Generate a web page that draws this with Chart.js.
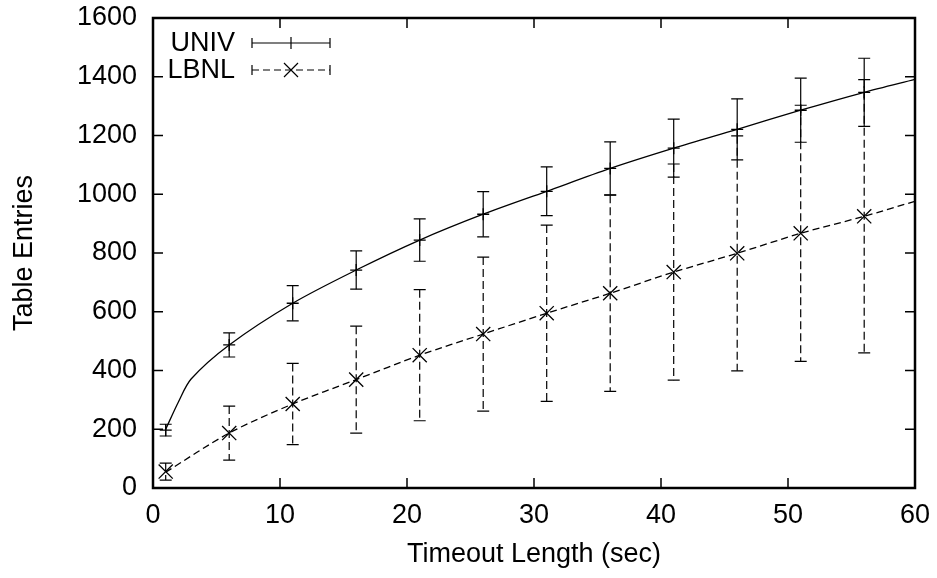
<!DOCTYPE html>
<html>
<head>
<meta charset="utf-8">
<script src="https://cdn.jsdelivr.net/npm/chart.js@4/dist/chart.umd.min.js"></script>
<style>
  html, body { margin: 0; padding: 0; background: #fff; }
  #wrap { width: 937px; height: 578px; }
</style>
</head>
<body>
<div id="wrap"><canvas id="chart" width="937" height="578"></canvas></div>
<script>
// measured points (timeout in sec)
const timeouts = [1, 6, 11, 16, 21, 26, 31, 36, 41, 46, 51, 56];
const univMean = [197, 487, 629, 742, 844, 932, 1010, 1088, 1157, 1221, 1286, 1347];
const univErr = [20, 41, 60, 65, 72, 77, 83, 90, 99, 104, 109, 116];
const lbnlMean = [56, 187, 286, 369, 452, 524, 595, 663, 735, 799, 867, 925];
const lbnlErr = [29, 92, 138, 182, 223, 262, 300, 334, 368, 400, 436, 465];

// fitted curves
const univCurveX = [1, 2, 3, 6, 11, 16, 21, 26, 31, 36, 41, 46, 51, 56, 60];
const univCurveY = [200, 293, 371, 487, 629, 742, 844, 932, 1010, 1088, 1157, 1221, 1286, 1347, 1391];
const lbnlCurveX = [1, 6, 11, 16, 21, 26, 31, 36, 41, 46, 51, 56, 60];
const lbnlCurveY = [54, 187, 286, 369, 452, 524, 595, 663, 735, 799, 867, 925, 976];

const xTicks = [0, 10, 20, 30, 40, 50, 60];
const yTicks = [0, 200, 400, 600, 800, 1000, 1200, 1400, 1600];

const FONT = "'Liberation Sans', Arial, Helvetica, sans-serif";
const FSIZE = 27;
const DASH = [7, 4];

const zip = (xa, ya) => xa.map((x, i) => ({ x, y: ya[i] }));

Chart.defaults.font.family = FONT;
Chart.defaults.color = "#000";

// error bars drawn through the scales
const errorBars = {
  id: "errorBars",
  afterDatasetsDraw(chart) {
    const { ctx, scales: { x, y } } = chart;
    const sets = [
      { mean: univMean, err: univErr, dash: [] },
      { mean: lbnlMean, err: lbnlErr, dash: [8, 4] }
    ];
    ctx.save();
    ctx.strokeStyle = "#000";
    ctx.lineWidth = 1.2;
    sets.forEach(s => {
      timeouts.forEach((t, i) => {
        const px = x.getPixelForValue(t);
        const top = y.getPixelForValue(s.mean[i] + s.err[i]);
        const bot = y.getPixelForValue(s.mean[i] - s.err[i]);
        ctx.setLineDash(s.dash);
        ctx.beginPath();
        ctx.moveTo(px, top);
        ctx.lineTo(px, bot);
        ctx.stroke();
        ctx.setLineDash([]);
        ctx.beginPath();
        ctx.moveTo(px - 6, top); ctx.lineTo(px + 6, top);
        ctx.moveTo(px - 6, bot); ctx.lineTo(px + 6, bot);
        ctx.stroke();
      });
    });
    ctx.restore();
  }
};

// gnuplot style border with inward ticks, plus the key
const frameAndKey = {
  id: "frameAndKey",
  afterDraw(chart) {
    const { ctx, chartArea: a, scales: { x, y } } = chart;
    ctx.save();
    ctx.strokeStyle = "#000";
    ctx.lineWidth = 1.5;
    ctx.beginPath();
    xTicks.forEach(v => {
      const px = x.getPixelForValue(v);
      ctx.moveTo(px, a.bottom); ctx.lineTo(px, a.bottom - 10);
      ctx.moveTo(px, a.top); ctx.lineTo(px, a.top + 10);
    });
    yTicks.forEach(v => {
      const py = y.getPixelForValue(v);
      ctx.moveTo(a.left, py); ctx.lineTo(a.left + 10, py);
      ctx.moveTo(a.right, py); ctx.lineTo(a.right - 10, py);
    });
    ctx.stroke();
    ctx.lineWidth = 2.5;
    ctx.strokeRect(a.left, a.top, a.right - a.left, a.bottom - a.top);

    // key
    const keys = [
      { label: "UNIV", y: a.top + 25, dash: [], marker: "plus" },
      { label: "LBNL", y: a.top + 52, dash: DASH, marker: "x" }
    ];
    ctx.font = FSIZE + "px " + FONT;
    ctx.fillStyle = "#000";
    ctx.textAlign = "right";
    ctx.textBaseline = "middle";
    ctx.lineWidth = 1.2;
    keys.forEach(k => {
      ctx.fillText(k.label, a.left + 82, k.y + 1);
      const x0 = a.left + 99, x1 = a.left + 177, xm = (x0 + x1) / 2;
      ctx.setLineDash(k.dash);
      ctx.beginPath();
      ctx.moveTo(x0, k.y); ctx.lineTo(x1, k.y);
      ctx.stroke();
      ctx.setLineDash([]);
      ctx.beginPath();
      ctx.moveTo(x0, k.y - 5); ctx.lineTo(x0, k.y + 5);
      ctx.moveTo(x1, k.y - 5); ctx.lineTo(x1, k.y + 5);
      if (k.marker === "plus") {
        ctx.moveTo(xm, k.y - 6); ctx.lineTo(xm, k.y + 6);
      } else {
        ctx.moveTo(xm - 7, k.y - 7); ctx.lineTo(xm + 7, k.y + 7);
        ctx.moveTo(xm - 7, k.y + 7); ctx.lineTo(xm + 7, k.y - 7);
      }
      ctx.stroke();
    });
    ctx.restore();
  }
};

new Chart(document.getElementById("chart").getContext("2d"), {
  type: "scatter",
  data: {
    datasets: [
      {
        label: "UNIV fit",
        data: zip(univCurveX, univCurveY),
        showLine: true,
        borderColor: "#000",
        borderWidth: 1.3,
        pointRadius: 0,
        tension: 0.3
      },
      {
        label: "LBNL fit",
        data: zip(lbnlCurveX, lbnlCurveY),
        showLine: true,
        borderColor: "#000",
        borderWidth: 1.3,
        borderDash: DASH,
        pointRadius: 0,
        tension: 0.3
      },
      {
        label: "UNIV",
        data: zip(timeouts, univMean),
        pointStyle: "cross",
        pointRadius: 6,
        borderColor: "#000",
        borderWidth: 1.3,
        backgroundColor: "#000"
      },
      {
        label: "LBNL",
        data: zip(timeouts, lbnlMean),
        pointStyle: "crossRot",
        pointRadius: 10,
        borderColor: "#000",
        borderWidth: 1.3,
        backgroundColor: "#000"
      }
    ]
  },
  options: {
    responsive: false,
    animation: false,
    layout: { padding: { top: 18, right: 22, left: 0, bottom: 0 } },
    plugins: {
      legend: { display: false },
      tooltip: { enabled: false }
    },
    scales: {
      x: {
        type: "linear",
        min: 0,
        max: 60,
        grid: { display: false, drawTicks: false },
        border: { display: false },
        afterFit: s => { s.height = 90; s.paddingLeft = 0; s.paddingRight = 0; },
        afterBuildTicks: s => { s.ticks = xTicks.map(v => ({ value: v })); },
        ticks: { font: { size: FSIZE }, color: "#000", padding: 11, maxRotation: 0, callback: v => String(v) },
        title: {
          display: true,
          text: "Timeout Length (sec)",
          font: { size: FSIZE },
          color: "#000",
          padding: { top: 0, bottom: 7 }
        }
      },
      y: {
        type: "linear",
        min: 0,
        max: 1600,
        grid: { display: false, drawTicks: false },
        border: { display: false },
        afterFit: s => { s.width = 153; s.paddingTop = 0; s.paddingBottom = 0; },
        afterBuildTicks: s => { s.ticks = yTicks.map(v => ({ value: v })); },
        ticks: { font: { size: FSIZE }, color: "#000", padding: 16, callback: v => String(v) },
        title: {
          display: true,
          text: "Table Entries",
          font: { size: FSIZE },
          color: "#000",
          padding: { top: 8, bottom: 0 }
        }
      }
    }
  },
  plugins: [errorBars, frameAndKey]
});
</script>
</body>
</html>
